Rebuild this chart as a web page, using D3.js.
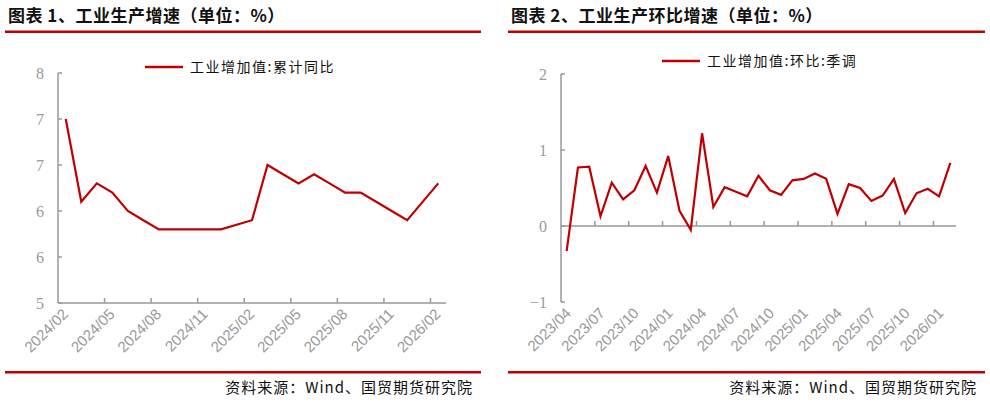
<!DOCTYPE html>
<html><head><meta charset="utf-8">
<script src="https://cdn.jsdelivr.net/npm/d3@7"></script>
<style>body{margin:0;background:#fff}svg{display:block}</style>
</head><body>
<svg id="c" width="990" height="403"></svg>
<script>
const leftMonths = ["2024/02","2024/03","2024/04","2024/05","2024/06","2024/07","2024/08","2024/09","2024/10","2024/11","2024/12","2025/01","2025/02","2025/03","2025/04","2025/05","2025/06","2025/07","2025/08","2025/09","2025/10","2025/11","2025/12","2026/01","2026/02"];
const leftValues = [7.4,6.32,6.56,6.44,6.2,6.08,5.96,5.96,5.96,5.96,5.96,null,6.08,6.8,6.68,6.56,6.68,6.56,6.44,6.44,6.32,6.2,6.08,null,6.56];
const leftTicks = ["2024/02","2024/05","2024/08","2024/11","2025/02","2025/05","2025/08","2025/11","2026/02"];
const leftYTicks = [5,5.6,6.2,6.8,7.4,8];

const rightMonths = [];
for (let y=2023,m=4; !(y===2026&&m===3); ){ rightMonths.push(y+"/"+String(m).padStart(2,"0")); m++; if(m>12){m=1;y++;} }
const rightValues = [-0.33,0.77,0.78,0.13,0.57,0.35,0.47,0.79,0.44,0.92,0.2,-0.05,1.22,0.25,0.51,0.45,0.39,0.66,0.47,0.41,0.6,0.62,0.69,0.62,0.16,0.55,0.5,0.33,0.4,0.62,0.17,0.43,0.49,0.39,0.83];
const rightTicks = ["2023/04","2023/07","2023/10","2024/01","2024/04","2024/07","2024/10","2025/01","2025/04","2025/07","2025/10","2026/01"];
const rightYTicks = [-1,0,1,2];

const svg = d3.select("#c");
const RED="#c00000", GRAY="#999";
function header(x0,x1,title){
  svg.append("text").attr("x",x0+3).attr("y",22).attr("font-family","Noto Sans CJK SC").attr("font-weight","bold").attr("font-size",17).attr("fill","#111").attr("letter-spacing",0.5).text(title);
  svg.append("rect").attr("x",x0).attr("y",30.5).attr("width",x1-x0).attr("height",2.5).attr("fill",RED);
  svg.append("rect").attr("x",x0).attr("y",371).attr("width",x1-x0).attr("height",2.5).attr("fill",RED);
  svg.append("text").attr("x",x1-8).attr("y",393).attr("text-anchor","end").attr("font-family","Noto Sans CJK SC").attr("font-size",15).attr("letter-spacing",1).attr("fill","#111").text("资料来源：Wind、国贸期货研究院");
}
header(5,481,"图表 1、工业生产增速（单位：%）");
header(508,985,"图表 2、工业生产环比增速（单位：%）");

function chart(o){
  const x=d3.scaleBand().domain(o.months).range([o.x0,o.x1]);
  const y=d3.scaleLinear().domain(o.yd).range([o.yb,o.yt]);
  const g=svg.append("g");
  g.append("line").attr("x1",o.x0).attr("x2",o.x0).attr("y1",y(o.yd[0])).attr("y2",y(o.yd[1])).attr("stroke",GRAY).attr("stroke-width",1.5);
  o.yticks.forEach(t=>{
    g.append("line").attr("x1",o.x0).attr("x2",o.x0+4).attr("y1",y(t)).attr("y2",y(t)).attr("stroke",GRAY).attr("stroke-width",1.5);
    g.append("text").attr("x",o.x0-14).attr("y",y(t)+6).attr("text-anchor","end").attr("font-family","Liberation Serif").attr("font-size",16).attr("fill",GRAY).text(o.fmt(t));
  });
  const ya=y(o.xAxisAt);
  g.append("line").attr("x1",o.x0).attr("x2",o.x1).attr("y1",ya).attr("y2",ya).attr("stroke",GRAY).attr("stroke-width",1.5);
  o.xticks.forEach((t,i)=>{
    const tx=x(t);
    if(i>0) g.append("line").attr("x1",tx).attr("x2",tx).attr("y1",ya).attr("y2",ya-5).attr("stroke",GRAY).attr("stroke-width",1.5);
    g.append("text").attr("transform",`translate(${tx+11},${y(o.yd[0])+12}) rotate(-45)`).attr("text-anchor","end").attr("font-family","Liberation Sans").attr("font-size",15).attr("fill",GRAY).text(t);
  });
  const line=d3.line().x(d=>x(d[0])+x.bandwidth()/2).y(d=>y(d[1]));
  const pts=o.months.map((m,i)=>[m,o.values[i]]).filter(d=>d[1]!=null);
  g.append("path").attr("d",line(pts)).attr("fill","none").attr("stroke",RED).attr("stroke-width",2.2);
  g.append("line").attr("x1",o.lx).attr("x2",o.lx+38).attr("y1",o.ly).attr("y2",o.ly).attr("stroke",RED).attr("stroke-width",2.5);
  g.append("text").attr("x",o.lx+45).attr("y",o.ly+5).attr("font-family","Noto Sans CJK SC").attr("font-size",14).attr("letter-spacing",1.5).attr("fill","#111").text(o.legend);
}
chart({months:leftMonths,values:leftValues,xticks:leftTicks,yticks:leftYTicks,yd:[5,8],x0:58,x1:446,yb:303,yt:73,xAxisAt:5,fmt:d3.format(".0f"),lx:145,ly:67,legend:"工业增加值:累计同比"});
chart({months:rightMonths,values:rightValues,xticks:rightTicks,yticks:rightYTicks,yd:[-1,2],x0:561,x1:956,yb:302,yt:74,xAxisAt:0,fmt:d3.format(".0f"),lx:662,ly:61,legend:"工业增加值:环比:季调"});
</script>
</body></html>
